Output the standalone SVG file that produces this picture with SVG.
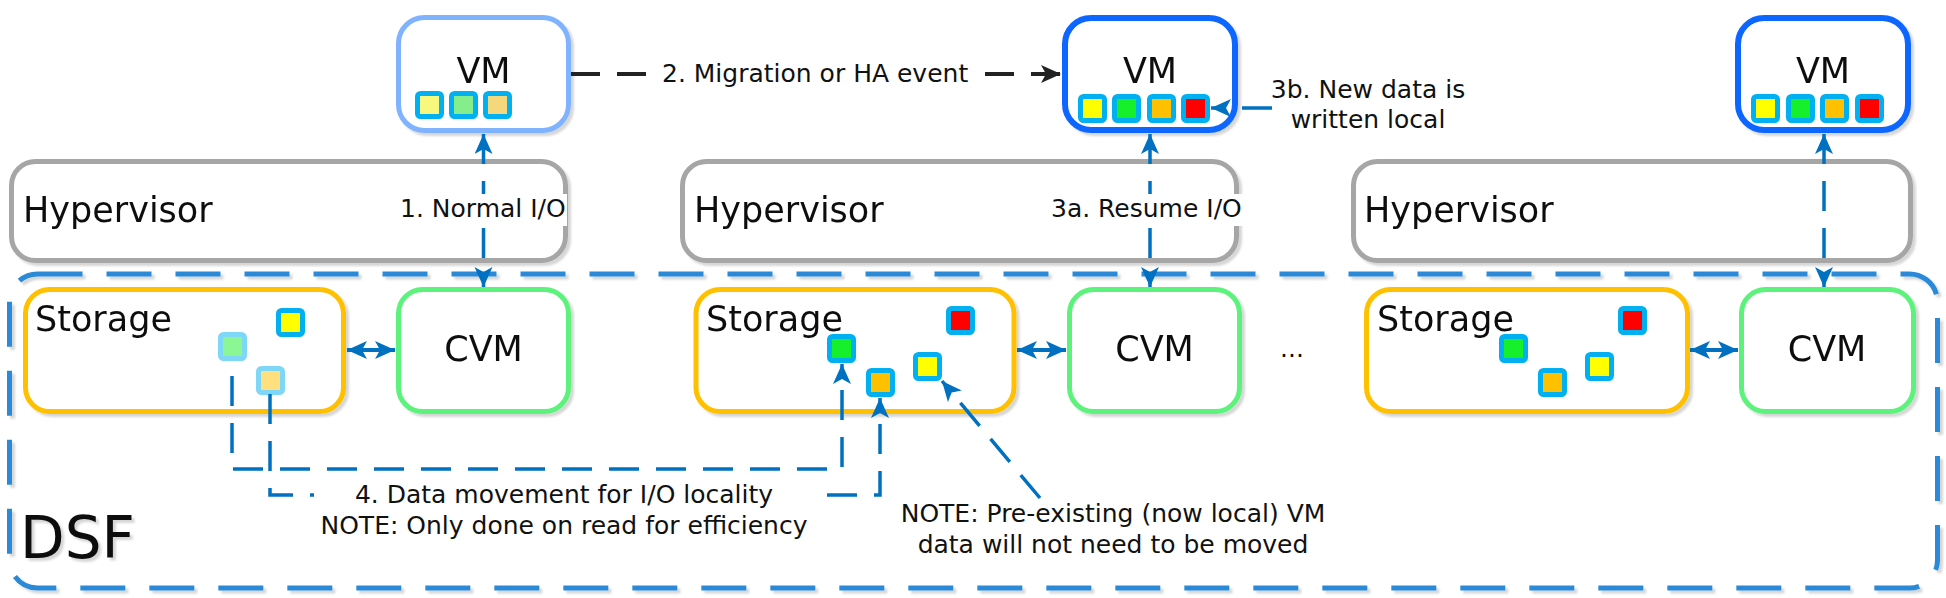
<svg xmlns="http://www.w3.org/2000/svg" width="1946" height="598" viewBox="0 0 1946 598">
<defs>
<filter id="sh" x="-10%" y="-10%" width="130%" height="140%">
<feDropShadow dx="3" dy="3" stdDeviation="1.2" flood-color="#000" flood-opacity="0.16"/>
</filter>
<marker id="ab" markerUnits="userSpaceOnUse" markerWidth="24" markerHeight="20" refX="20" refY="9" orient="auto-start-reverse" viewBox="0 0 24 20">
<path d="M0,0 L20,9 L0,18 L5,9 z" fill="#0070c0"/>
</marker>
<marker id="ak" markerUnits="userSpaceOnUse" markerWidth="24" markerHeight="20" refX="20" refY="9" orient="auto" viewBox="0 0 24 20">
<path d="M0,0 L20,9 L0,18 L5,9 z" fill="#222"/>
</marker>
<style>
text{font-family:"DejaVu Sans","Liberation Sans",sans-serif;fill:#111}
.big{font-size:35px}
.lbl{font-size:25px}
.box{fill:#fff;stroke-width:5}
.hyp{stroke:#a6a6a6}
.vm{stroke:#0a66ff;stroke-width:6}
.vmf{stroke:#80b3ff}
.sto{stroke:#ffc000}
.cvm{stroke:#5cf27c}
.sq{stroke:#00b0f0;stroke-width:5}
.y{fill:#ffff00}.g{fill:#18f02c}.o{fill:#ffc000}.r{fill:#ff0000}
.py{fill:#f8f87c}.pg{fill:#84ee8c}.po{fill:#f5d77c}
.fade{opacity:0.5}
.bl{fill:none;stroke:#0070c0;stroke-width:3.5;stroke-dasharray:30 17}
.bs{fill:none;stroke:#0070c0;stroke-width:4}
.bg{fill:#fff}
</style>
</defs>
<rect width="1946" height="598" fill="#fff"/>

<g id="dsf">
<rect x="9.5" y="274" width="1928" height="314" rx="28" fill="none" stroke="#2a8ad8" stroke-width="5" stroke-dasharray="45 24" filter="url(#sh)"/>
<text x="20" y="558" style="font-size:58px" filter="url(#sh)">DSF</text>
</g>

<g id="hyp1" filter="url(#sh)"><rect class="box hyp" x="11.5" y="161.5" width="554" height="99" rx="24"/><text class="big" x="23" y="222">Hypervisor</text></g>
<g id="hyp2" filter="url(#sh)"><rect class="box hyp" x="682.5" y="161.5" width="554" height="99" rx="24"/><text class="big" x="694" y="222">Hypervisor</text></g>
<g id="hyp3" filter="url(#sh)"><rect class="box hyp" x="1353.5" y="161.5" width="557" height="99" rx="24"/><text class="big" x="1364" y="222">Hypervisor</text></g>

<g id="vm1" filter="url(#sh)">
<rect class="box vmf" x="398.5" y="17.5" width="170" height="113" rx="26"/>
<text class="big" x="483.5" y="83" text-anchor="middle">VM</text>
<rect class="sq py" x="417.5" y="93.5" width="24" height="23" rx="3"/>
<rect class="sq pg" x="451.5" y="93.5" width="24" height="23" rx="3"/>
<rect class="sq po" x="485.5" y="93.5" width="24" height="23" rx="3"/>
</g>
<g id="vm2" filter="url(#sh)">
<rect class="box vm" x="1065" y="18" width="170" height="112" rx="26"/>
<text class="big" x="1150" y="83" text-anchor="middle">VM</text>
<rect class="sq y" x="1080.5" y="96.5" width="24" height="24" rx="3"/>
<rect class="sq g" x="1114.5" y="96.5" width="24" height="24" rx="3"/>
<rect class="sq o" x="1149.5" y="96.5" width="24" height="24" rx="3"/>
<rect class="sq r" x="1183.5" y="96.5" width="24" height="24" rx="3"/>
</g>
<g id="vm3" filter="url(#sh)">
<rect class="box vm" x="1738" y="18" width="170" height="112" rx="26"/>
<text class="big" x="1823" y="83" text-anchor="middle">VM</text>
<rect class="sq y" x="1753.5" y="96.5" width="24" height="24" rx="3"/>
<rect class="sq g" x="1788.5" y="96.5" width="24" height="24" rx="3"/>
<rect class="sq o" x="1822.5" y="96.5" width="24" height="24" rx="3"/>
<rect class="sq r" x="1857.5" y="96.5" width="24" height="24" rx="3"/>
</g>

<g id="storage1" filter="url(#sh)">
<rect class="box sto" x="25.5" y="289.5" width="318" height="122" rx="24"/>
<text class="big" x="35" y="331">Storage</text>
<rect class="sq y" x="278.5" y="310.5" width="24" height="24" rx="3"/>
<g class="fade">
<rect class="sq g" x="220.5" y="334.5" width="24" height="24" rx="3"/>
<rect class="sq o" x="258.5" y="368.5" width="24" height="24" rx="3"/>
</g>
</g>
<g id="storage2" filter="url(#sh)">
<rect class="box sto" x="696" y="289.5" width="318" height="122" rx="24"/>
<text class="big" x="706" y="331">Storage</text>
<rect class="sq g" x="829.5" y="336.5" width="24" height="24" rx="3"/>
<rect class="sq r" x="948.5" y="308.5" width="24" height="24" rx="3"/>
<rect class="sq o" x="868.5" y="370.5" width="24" height="24" rx="3"/>
<rect class="sq y" x="915.5" y="354.5" width="24" height="24" rx="3"/>
</g>
<g id="storage3" filter="url(#sh)">
<rect class="box sto" x="1366.5" y="289.5" width="321" height="122" rx="24"/>
<text class="big" x="1377" y="331">Storage</text>
<rect class="sq g" x="1501.5" y="336.5" width="24" height="24" rx="3"/>
<rect class="sq r" x="1620.5" y="308.5" width="24" height="24" rx="3"/>
<rect class="sq o" x="1540.5" y="370.5" width="24" height="24" rx="3"/>
<rect class="sq y" x="1587.5" y="354.5" width="24" height="24" rx="3"/>
</g>

<g id="cvm1" filter="url(#sh)"><rect class="box cvm" x="398.5" y="289.5" width="170" height="122" rx="24"/><text class="big" x="483.5" y="361" text-anchor="middle">CVM</text></g>
<g id="cvm2" filter="url(#sh)"><rect class="box cvm" x="1069.5" y="289.5" width="170" height="122" rx="24"/><text class="big" x="1154.5" y="361" text-anchor="middle">CVM</text></g>
<g id="cvm3" filter="url(#sh)"><rect class="box cvm" x="1741.5" y="289.5" width="172" height="122" rx="24"/><text class="big" x="1827" y="361" text-anchor="middle">CVM</text></g>

<text id="ellipsis" class="lbl" x="1292" y="357" text-anchor="middle">...</text>

<g id="connectors">
<line class="bs" x1="347" y1="350" x2="395" y2="350" marker-start="url(#ab)" marker-end="url(#ab)"/>
<line class="bs" x1="1017" y1="350" x2="1066" y2="350" marker-start="url(#ab)" marker-end="url(#ab)"/>
<line class="bs" x1="1690" y1="350" x2="1738" y2="350" marker-start="url(#ab)" marker-end="url(#ab)"/>
<line class="bl" x1="483.5" y1="134" x2="483.5" y2="287" marker-start="url(#ab)" marker-end="url(#ab)"/>
<line class="bl" x1="1150" y1="134" x2="1150" y2="287" marker-start="url(#ab)" marker-end="url(#ab)"/>
<line class="bl" x1="1824" y1="134" x2="1824" y2="287" marker-start="url(#ab)" marker-end="url(#ab)"/>
<rect class="bg" x="399" y="194" width="168" height="32"/>
<text class="lbl" x="400" y="217">1. Normal I/O</text>
<rect class="bg" x="1050" y="194" width="198" height="32"/>
<text class="lbl" x="1051" y="217">3a. Resume I/O</text>
<line x1="571" y1="74" x2="1061" y2="74" stroke="#222" stroke-width="4" stroke-dasharray="29 17" marker-end="url(#ak)"/>
<rect class="bg" x="661" y="58" width="318" height="32"/>
<text class="lbl" x="662" y="82">2. Migration or HA event</text>
<line class="bl" x1="1272" y1="108" x2="1211" y2="108" stroke-dasharray="22 17" marker-end="url(#ab)"/>
<text class="lbl" x="1368" y="98" text-anchor="middle">3b. New data is</text>
<text class="lbl" x="1368" y="128" text-anchor="middle">written local</text>
<path class="bl" d="M232 376 V469 H842 V364" stroke-dasharray="28 17" marker-end="url(#ab)"/>
<path class="bl" d="M270 394 V495 H880 V398" stroke-dasharray="28 17" marker-end="url(#ab)"/>
<rect class="bg" x="314" y="480" width="502" height="62"/>
<text class="lbl" x="564" y="503" text-anchor="middle">4. Data movement for I/O locality</text>
<text class="lbl" x="564" y="534" text-anchor="middle">NOTE: Only done on read for efficiency</text>
<line class="bl" x1="1040" y1="498" x2="942" y2="381" marker-end="url(#ab)"/>
<text class="lbl" x="1113" y="522" text-anchor="middle">NOTE: Pre-existing (now local) VM</text>
<text class="lbl" x="1113" y="553" text-anchor="middle">data will not need to be moved</text>
</g>
</svg>
